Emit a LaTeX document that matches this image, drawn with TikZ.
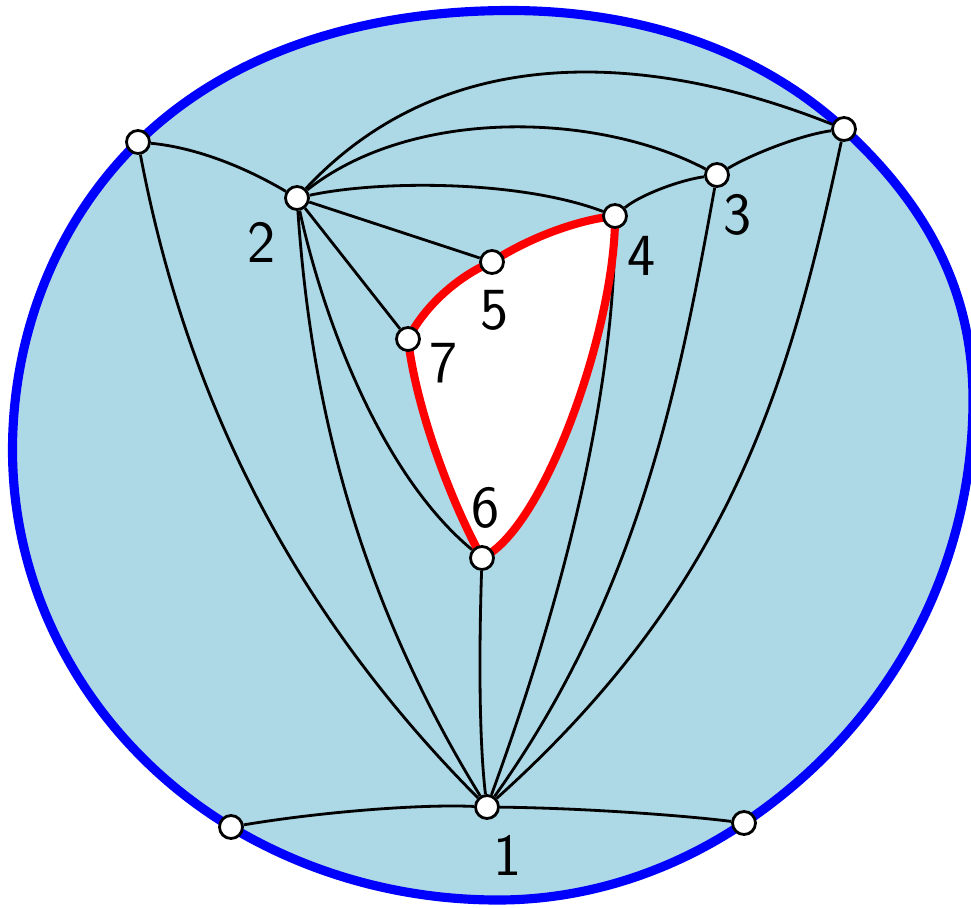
\documentclass[tikz,border=0pt]{standalone}
\usepackage{fontspec}
\usetikzlibrary{backgrounds}
\definecolor{lb}{RGB}{173,216,230}
\begin{document}
\begin{tikzpicture}[x=0.02cm,y=-0.02cm,
  vtx/.style={circle,draw=black,fill=white,line width=1.6pt,minimum size=0.46cm,inner sep=0pt},
  edge/.style={line width=1.6pt,black},
  lbl/.style={font=\sffamily\fontsize{34}{40}\selectfont,inner sep=0pt}]
\useasboundingbox (0,0) rectangle (971,907);
\clip (0,0) rectangle (971,907);
% vertices
\node[vtx] (a) at (138,142) {};
\node[vtx] (n2) at (297,198) {};
\node[vtx] (tr) at (844,129) {};
\node[vtx] (n3) at (717,175) {};
\node[vtx] (n4) at (615,216) {};
\node[vtx] (n5) at (492,262) {};
\node[vtx] (n7) at (408,339) {};
\node[vtx] (n6) at (482,558) {};
\node[vtx] (n1) at (487,807) {};
\node[vtx] (bl) at (231,827) {};
\node[vtx] (br) at (744,823) {};
% labels
\node[lbl] (l2) at (262,242) {2};
\node[lbl] (l3) at (738,215) {3};
\node[lbl] (l4) at (642,256) {4};
\node[lbl] (l5) at (495,310) {5};
\node[lbl] (l7) at (444,363) {7};
\node[lbl] (l6) at (486,508) {6};
\node[lbl] (l1) at (508,855) {1};
\begin{pgfonlayer}{background}
% outer boundary
\filldraw[fill=lb,draw=blue,line width=5.2pt] (12.5,450)
  .. controls (12.5,335) and (55.7,222.4) .. (a.center)
  .. controls (235.8,46.5) and (373.4,10.5) .. (510,10.5)
  .. controls (632.4,10.5) and (754,46) .. (tr.center)
  .. controls (925.6,204.3) and (973,289) .. (973,400)
  .. controls (973,572) and (887,727) .. (br.center)
  .. controls (671,872) and (586,900) .. (498,900)
  .. controls (404,900) and (311.6,875.3) .. (bl.center)
  .. controls (98,747) and (12.5,605) .. cycle;
% edges
\draw[edge] (a) .. controls (200,148) and (250,170) .. (n2);
\draw[edge] (n2) .. controls (455,29) and (671,60) .. (tr);
\draw[edge] (n2) .. controls (412,107) and (597,112) .. (n3);
\draw[edge] (n2) .. controls (380,180) and (520,180) .. (n4);
\draw[edge] (n2) -- (n5);
\draw[edge] (n2) -- (n7);
\draw[edge] (n2) .. controls (320,305) and (376,470) .. (n6);
\draw[edge] (n2) .. controls (311,403) and (357,595) .. (n1);
\draw[edge] (a) .. controls (185,390) and (287,606) .. (n1);
\draw[edge] (n6) .. controls (479,650) and (479,740) .. (n1);
\draw[edge] (n4) .. controls (614,405) and (557,615) .. (n1);
\draw[edge] (n3) .. controls (679,385) and (639,594) .. (n1);
\draw[edge] (tr) .. controls (789,385) and (732,587) .. (n1);
\draw[edge] (n4) .. controls (640,195) and (680,180) .. (n3);
\draw[edge] (n3) .. controls (750,155) and (800,135) .. (tr);
\draw[edge] (bl) .. controls (320,812) and (420,804) .. (n1);
\draw[edge] (n1) .. controls (580,808) and (680,815) .. (br);
% red face
\draw[red,line width=4.6pt,fill=white,line join=round] (n4.center)
  .. controls (575,220) and (525,240) .. (n5.center)
  .. controls (460,275) and (425,305) .. (n7.center)
  .. controls (415,400) and (445,490) .. (n6.center)
  .. controls (546,528) and (616,322) .. cycle;
\end{pgfonlayer}
\end{tikzpicture}
\end{document}
